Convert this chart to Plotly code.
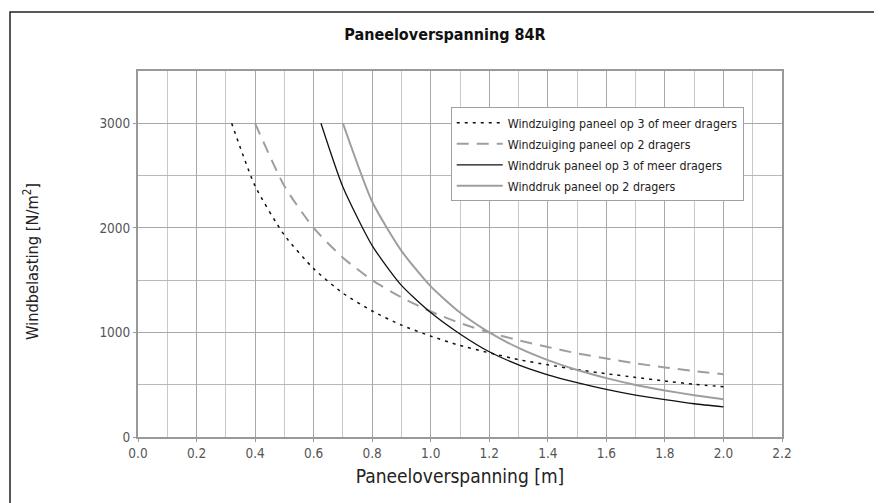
import plotly.graph_objects as go

# Windzuiging paneel op 3 of meer dragers (dotted black)
x_zuig3 = [0.32, 0.4, 0.5, 0.6, 0.7, 0.8, 0.9, 1.0, 1.1, 1.2, 1.3, 1.4, 1.5, 1.6, 1.7, 1.8, 1.9, 2.0]
y_zuig3 = [3000, 2400, 1930, 1610, 1375, 1205, 1070, 965, 875, 805, 740, 690, 645, 605, 570, 535, 505, 480]

# Windzuiging paneel op 2 dragers (dashed grey)
x_zuig2 = [0.4, 0.5, 0.6, 0.7, 0.8, 0.9, 1.0, 1.1, 1.2, 1.3, 1.4, 1.5, 1.6, 1.7, 1.8, 1.9, 2.0]
y_zuig2 = [3000, 2400, 2000, 1715, 1500, 1335, 1200, 1090, 1000, 925, 860, 800, 750, 705, 665, 630, 600]

# Winddruk paneel op 3 of meer dragers (solid black)
x_druk3 = [0.625, 0.7, 0.8, 0.9, 1.0, 1.1, 1.2, 1.3, 1.4, 1.5, 1.6, 1.7, 1.8, 1.9, 2.0]
y_druk3 = [3000, 2390, 1830, 1450, 1190, 985, 815, 690, 595, 520, 455, 400, 357, 318, 288]

# Winddruk paneel op 2 dragers (solid grey)
x_druk2 = [0.7, 0.8, 0.9, 1.0, 1.1, 1.2, 1.3, 1.4, 1.5, 1.6, 1.7, 1.8, 1.9, 2.0]
y_druk2 = [3000, 2250, 1780, 1440, 1190, 1000, 852, 735, 640, 563, 498, 445, 400, 360]

names = [
    "Windzuiging paneel op 3 of meer dragers",
    "Windzuiging paneel op 2 dragers",
    "Winddruk paneel op 3 of meer dragers",
    "Winddruk paneel op 2 dragers",
]

x_ticks = [0.0, 0.2, 0.4, 0.6, 0.8, 1.0, 1.2, 1.4, 1.6, 1.8, 2.0, 2.2]
y_ticks = [0, 1000, 2000, 3000]

FONT = "DejaVu Sans Condensed, Liberation Sans Narrow, Arial Narrow, sans-serif"

fig = go.Figure()
fig.add_trace(go.Scatter(x=x_zuig3, y=y_zuig3, mode="lines", name=names[0], legendgroup="a",
                         line=dict(color="#111111", width=1.5, dash="3px,5px",
                                   shape="spline", smoothing=0.6)))
fig.add_trace(go.Scatter(x=x_zuig2, y=y_zuig2, mode="lines", name=names[1], legendgroup="b",
                         line=dict(color="#9e9e9e", width=2, dash="12px,8px",
                                   shape="spline", smoothing=0.6)))
fig.add_trace(go.Scatter(x=x_druk3, y=y_druk3, mode="lines", name=names[2], legendgroup="c",
                         line=dict(color="#111111", width=1.3,
                                   shape="spline", smoothing=0.6)))
fig.add_trace(go.Scatter(x=x_druk2, y=y_druk2, mode="lines", name=names[3], legendgroup="d",
                         line=dict(color="#9e9e9e", width=2,
                                   shape="spline", smoothing=0.6)))

# the page adds an 8px body margin, so the figure is 8px smaller and shifted
W, H = 874, 495
fig.update_layout(
    width=W, height=H,
    margin=dict(l=130, r=100, t=63, b=66),
    paper_bgcolor="white", plot_bgcolor="white",
    font=dict(family=FONT, color="#222222"),
    title=dict(text="<b>Paneeloverspanning 84R</b>", x=0.5, xanchor="center",
               y=1 - 26 / H, yanchor="middle",
               font=dict(family=FONT, size=16, color="#111111")),
    showlegend=True,
    legend=dict(x=0.4856, y=0.9008, xanchor="left", yanchor="top",
                bgcolor="white", bordercolor="#a0a0a0", borderwidth=1,
                font=dict(family=FONT, size=12.3, color="#222222"),
                tracegroupgap=2, itemwidth=46),
)

fig.update_xaxes(
    range=[0, 2.2], tickvals=x_ticks, ticktext=[f"{v:.1f}" for v in x_ticks],
    showgrid=True, gridcolor="#a8a8a8", gridwidth=1,
    minor=dict(dtick=0.1, showgrid=True, gridcolor="#c8c8c8", gridwidth=1, ticks=""),
    showline=True, linecolor="#999999", linewidth=2, mirror=True,
    ticks="outside", ticklen=3, tickcolor="#999999",
    tickfont=dict(family=FONT, size=13.5, color="#555555"),
    title=dict(text="Paneeloverspanning [m]", font=dict(family=FONT, size=19, color="#222222"), standoff=9),
    zeroline=False,
)
fig.update_yaxes(
    range=[0, 3500], tickvals=y_ticks,
    showgrid=True, gridcolor="#a8a8a8", gridwidth=1,
    minor=dict(dtick=500, showgrid=True, gridcolor="#b8b8b8", gridwidth=1, ticks=""),
    showline=True, linecolor="#999999", linewidth=2, mirror=True,
    ticks="outside", ticklen=3, tickcolor="#999999",
    tickfont=dict(family=FONT, size=13.5, color="#555555"),
    zeroline=False,
)

fig.add_annotation(text="Windbelasting [N/m<sup>2</sup>]", xref="paper", yref="paper",
                   x=(23 - 130) / 644, y=0.478, xanchor="center", yanchor="middle",
                   textangle=-90, showarrow=False,
                   font=dict(family=FONT, size=16.3, color="#222222"))

# outer frame of the figure
fig.add_shape(type="rect", xref="paper", yref="paper",
              x0=(2 - 130) / 644, x1=(868 - 130) / 644,
              y0=(429 - 500) / 366, y1=(429 - 4) / 366,
              line=dict(color="#222222", width=1.5), fillcolor="rgba(0,0,0,0)", layer="below")

fig.write_html("out.html")
